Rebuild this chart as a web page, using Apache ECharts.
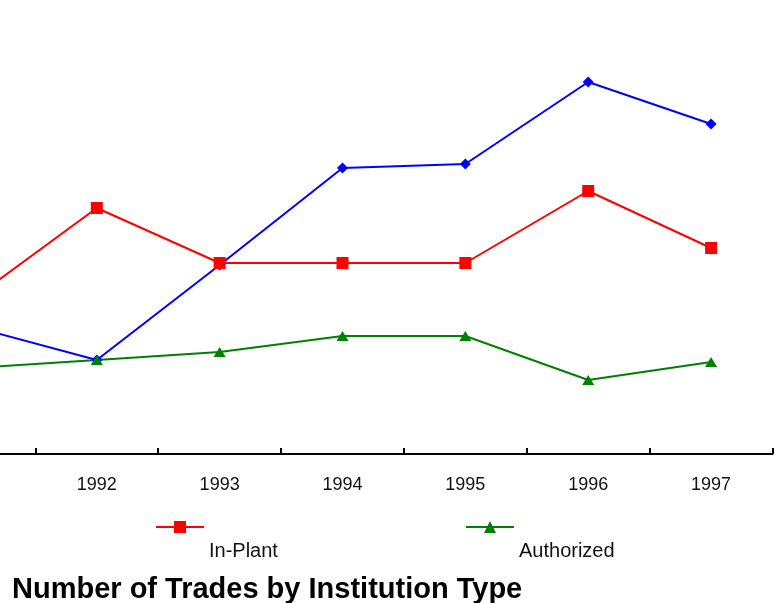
<!DOCTYPE html>
<html>
<head>
<meta charset="utf-8">
<script src="https://cdn.jsdelivr.net/npm/echarts@6/dist/echarts.min.js"></script>
<style>
  html, body { margin: 0; padding: 0; background: #fff; }
  #chart { width: 775px; height: 603px; }
</style>
</head>
<body>
<div id="chart"></div>
<script>
// categories (1991 sits just off the left edge, like the reference crop)
var years = ['1991', '1992', '1993', '1994', '1995', '1996', '1997'];
// values (arbitrary units, y axis not visible)
var otherData = [127, 94, 189, 286, 290, 372, 330];
var inPlantData = [156, 246, 191, 191, 191, 263, 206];
var authorizedData = [86, 94, 102, 118, 118, 74, 92];

var font = 'Liberation Sans, Arial, sans-serif';

var chart = echarts.init(document.getElementById('chart'));

// one legend per series so the items can sit where the reference has them
function legendAt(name, left) {
  return {
    data: [name],
    left: left,
    top: 516,
    itemWidth: 48,
    itemHeight: 15,
    formatter: '{a|{name}}',
    textStyle: {
      rich: {
        a: {
          fontFamily: font,
          fontSize: 20,
          color: '#111',
          padding: [48, 0, 0, 0]
        }
      }
    }
  };
}

var option = {
  animation: false,
  backgroundColor: '#fff',
  title: {
    text: 'Number of Trades by Institution Type',
    left: 7,
    top: 570,
    textStyle: { fontFamily: font, fontSize: 29, fontWeight: 'bold', color: '#000' }
  },
  legend: [
    legendAt('In-Plant', 150),
    legendAt('Authorized', 460)
  ],
  grid: { left: -87.5, width: 860, top: 54, bottom: 149, containLabel: false, outerBoundsMode: 'none' },
  xAxis: {
    type: 'category',
    data: years,
    boundaryGap: true,
    axisLine: { lineStyle: { color: '#000', width: 2 } },
    axisTick: { show: true, inside: true, length: 6, lineStyle: { color: '#000', width: 2 } },
    axisLabel: { fontFamily: font, fontSize: 18, color: '#111', margin: 22 },
    splitLine: { show: false }
  },
  yAxis: {
    type: 'value',
    min: 0,
    max: 400,
    show: false,
    splitLine: { show: false }
  },
  series: [
    {
      name: 'Other',
      type: 'line',
      data: otherData,
      symbol: 'diamond',
      symbolSize: 11,
      color: '#0000ff',
      lineStyle: { width: 2, color: '#0000ff' }
    },
    {
      name: 'In-Plant',
      type: 'line',
      data: inPlantData,
      symbol: 'rect',
      symbolSize: 12,
      color: '#ff0000',
      lineStyle: { width: 2, color: '#ff0000' }
    },
    {
      name: 'Authorized',
      type: 'line',
      data: authorizedData,
      symbol: 'triangle',
      symbolSize: [12, 10],
      color: '#008000',
      lineStyle: { width: 2, color: '#008000' }
    }
  ]
};

chart.setOption(option);
</script>
</body>
</html>
